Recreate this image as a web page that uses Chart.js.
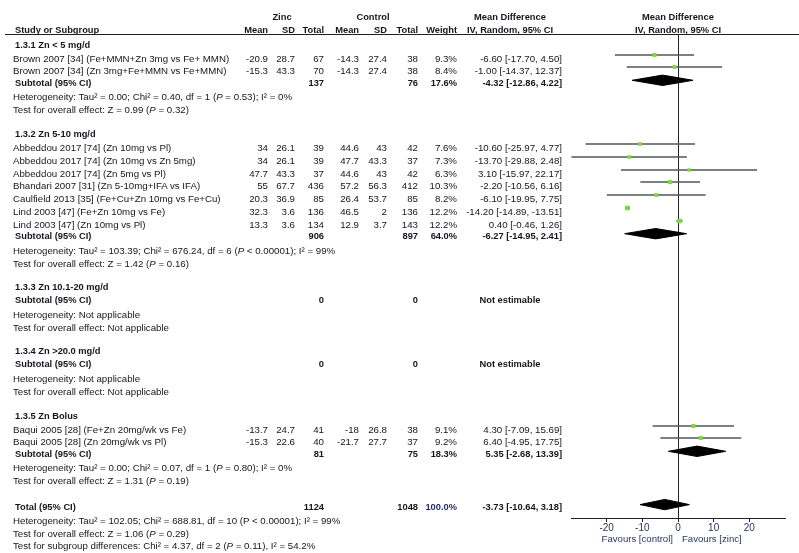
<!DOCTYPE html>
<html>
<head>
<meta charset="utf-8">
<script src="https://cdn.jsdelivr.net/npm/chart.js@4.4.1/dist/chart.umd.min.js"></script>
<style>
  html, body { margin: 0; padding: 0; background: #fff; }
  #wrap { position: relative; width: 799px; height: 553px; overflow: hidden; font-family: "Liberation Sans", Arial, sans-serif; color: #15151d; }
  #c { position: absolute; left: 0; top: 0; }
  .t { position: absolute; white-space: nowrap; font-size: 9.7px; line-height: 12px; height: 12px; }
  .b { font-weight: bold; font-size: 9.3px; }
  .hl { position: absolute; height: 1px; background: #222; }
</style>
</head>
<body>
<div id="wrap"><canvas id="c" width="799" height="553"></canvas></div>
<script>
// ---------------- DATA ----------------
const studyNames = [
  'Brown 2007 [34] (Fe+MMN+Zn 3mg vs Fe+ MMN)',
  'Brown 2007 [34] (Zn 3mg+Fe+MMN vs Fe+MMN)',
  'Abbeddou 2017 [74] (Zn 10mg vs Pl)',
  'Abbeddou 2017 [74] (Zn 10mg vs Zn 5mg)',
  'Abbeddou 2017 [74] (Zn 5mg vs Pl)',
  'Bhandari 2007 [31] (Zn 5-10mg+IFA vs IFA)',
  'Caulfield 2013 [35] (Fe+Cu+Zn 10mg vs Fe+Cu)',
  'Lind 2003 [47] (Fe+Zn 10mg vs Fe)',
  'Lind 2003 [47] (Zn 10mg vs Pl)',
  'Baqui 2005 [28] (Fe+Zn 20mg/wk vs Fe)',
  'Baqui 2005 [28] (Zn 20mg/wk vs Pl)'
];
const studyGroup = [0, 0, 1, 1, 1, 1, 1, 1, 1, 4, 4];
const zincMean = [-20.9, -15.3, 34, 34, 47.7, 55, 20.3, 32.3, 13.3, -13.7, -15.3];
const zincSD   = [28.7, 43.3, 26.1, 26.1, 43.3, 67.7, 36.9, 3.6, 3.6, 24.7, 22.6];
const zincN    = [67, 70, 39, 39, 37, 436, 85, 136, 134, 41, 40];
const ctrlMean = [-14.3, -14.3, 44.6, 47.7, 44.6, 57.2, 26.4, 46.5, 12.9, -18, -21.7];
const ctrlSD   = [27.4, 27.4, 43, 43.3, 43, 56.3, 53.7, 2, 3.7, 26.8, 27.7];
const ctrlN    = [38, 38, 42, 37, 42, 412, 85, 136, 143, 38, 37];
const weights  = [9.3, 8.4, 7.6, 7.3, 6.3, 10.3, 8.2, 12.2, 12.2, 9.1, 9.2];
const md       = [-6.60, -1.00, -10.60, -13.70, 3.10, -2.20, -6.10, -14.20, 0.40, 4.30, 6.40];
const ciLo     = [-17.70, -14.37, -25.97, -29.88, -15.97, -10.56, -19.95, -14.89, -0.46, -7.09, -4.95];
const ciHi     = [4.50, 12.37, 4.77, 2.48, 22.17, 6.16, 7.75, -13.51, 1.26, 15.69, 17.75];

const subgroupLabels = ['1.3.1 Zn < 5 mg/d', '1.3.2 Zn 5-10 mg/d', '1.3.3 Zn 10.1-20 mg/d', '1.3.4 Zn >20.0 mg/d', '1.3.5 Zn Bolus'];
const subZincN  = [137, 906, 0, 0, 81];
const subCtrlN  = [76, 897, 0, 0, 75];
const subWeight = [17.6, 64.0, null, null, 18.3];
const subMD     = [-4.32, -6.27, null, null, 5.35];
const subLo     = [-12.86, -14.95, null, null, -2.68];
const subHi     = [4.22, 2.41, null, null, 13.39];
const subHet = [
  'Heterogeneity: Tau² = 0.00; Chi² = 0.40, df = 1 (<i>P</i> = 0.53); I² = 0%',
  'Heterogeneity: Tau² = 103.39; Chi² = 676.24, df = 6 (<i>P</i> &lt; 0.00001); I² = 99%',
  'Heterogeneity: Not applicable',
  'Heterogeneity: Not applicable',
  'Heterogeneity: Tau² = 0.00; Chi² = 0.07, df = 1 (<i>P</i> = 0.80); I² = 0%'
];
const subTest = [
  'Test for overall effect: Z = 0.99 (<i>P</i> = 0.32)',
  'Test for overall effect: Z = 1.42 (<i>P</i> = 0.16)',
  'Test for overall effect: Not applicable',
  'Test for overall effect: Not applicable',
  'Test for overall effect: Z = 1.31 (<i>P</i> = 0.19)'
];
const totalZincN = 1124, totalCtrlN = 1048, totalWeight = 100.0;
const totalMD = -3.73, totalLo = -10.64, totalHi = 3.18;
const totalNotes = [
  'Heterogeneity: Tau² = 102.05; Chi² = 688.81, df = 10 (P &lt; 0.00001); I² = 99%',
  'Test for overall effect: Z = 1.06 (<i>P</i> = 0.29)',
  'Test for subgroup differences: Chi² = 4.37, df = 2 (<i>P</i> = 0.11), I² = 54.2%'
];
const axisTicks = [-20, -10, 0, 10, 20];
const axisLabels = ['Favours [control]', 'Favours [zinc]'];

// ---------------- LAYOUT (row positions, px below header rule) ----------------
const rows = [];
let y = 8;
subgroupLabels.forEach((lab, g) => {
  if (g > 0) y += 23.8;
  rows.push({ kind: 'group', g, y });
  const idx = studyGroup.map((sg, i) => sg === g ? i : -1).filter(i => i >= 0);
  idx.forEach((i, k) => { y += (k === 0 ? 14 : 12.8); rows.push({ kind: 'study', i, y }); });
  y += idx.length ? 11.5 : 13; rows.push({ kind: 'sub', g, y });
  y += 14.5; rows.push({ kind: 'het', g, y });
  y += 12.8; rows.push({ kind: 'test', g, y });
});
y += 26; rows.push({ kind: 'total', y });
y += 14; rows.push({ kind: 'note', n: 0, y });
y += 12.5; rows.push({ kind: 'note', n: 1, y });
y += 12; rows.push({ kind: 'note', n: 2, y });

const studyY = [], subY = [];
rows.forEach(r => { if (r.kind === 'study') studyY[r.i] = r.y; if (r.kind === 'sub') subY[r.g] = r.y; });
const totalY = rows.find(r => r.kind === 'total').y;

const PLOT_TOP = 35, PLOT_BOTTOM = 518;
const markY = v => Math.round(v - 2.5);
const fmt = v => v.toFixed(2);
const ciText = (m, l, h) => `${fmt(m)} [${fmt(l)}, ${fmt(h)}]`;

// ---------------- DATASETS ----------------
const datasets = [];
md.forEach((m, i) => {
  datasets.push({
    data: [{ x: ciLo[i], y: markY(studyY[i]) }, { x: ciHi[i], y: markY(studyY[i]) }],
    showLine: true, borderColor: '#4f5757', borderWidth: 1.7, pointRadius: 0, order: 2
  });
});
datasets.push({
  data: md.map((m, i) => ({ x: m, y: markY(studyY[i]) })),
  pointStyle: 'rect', backgroundColor: '#7ddb3a', borderWidth: 0,
  pointRadius: md.map((m, i) => (2 + weights[i] * 0.22) / Math.SQRT2),
  order: 1
});
function diamond(m, l, h, yy) {
  const dh = 5.2;
  return {
    data: [{ x: l, y: yy }, { x: m, y: yy - dh }, { x: h, y: yy }, { x: m, y: yy + dh }, { x: l, y: yy }],
    showLine: true, fill: 'shape', backgroundColor: '#000', borderColor: '#000', borderWidth: 1,
    pointRadius: 0, tension: 0, order: 0
  };
}
subMD.forEach((m, g) => { if (m !== null) datasets.push(diamond(m, subLo[g], subHi[g], subY[g] - 1)); });
datasets.push(diamond(totalMD, totalLo, totalHi, totalY - 1));

const chart = new Chart(document.getElementById('c'), {
  type: 'scatter',
  data: { datasets },
  options: {
    responsive: false, animation: false, devicePixelRatio: 1,
    layout: { padding: { left: 571, right: 14, top: PLOT_TOP, bottom: 0 } },
    plugins: { legend: { display: false }, tooltip: { enabled: false } },
    scales: {
      x: {
        type: 'linear', min: -30, max: 30,
        afterFit: s => { s.height = 553 - PLOT_BOTTOM; },
        afterBuildTicks: s => { s.ticks = [-30].concat(axisTicks, [30]).map(v => ({ value: v })); },
        ticks: {
          autoSkip: false, maxRotation: 0, padding: 0,
          color: '#2b3563', font: { family: '"Liberation Sans", Arial, sans-serif', size: 10 },
          callback: v => axisTicks.includes(v) ? String(v) : ''
        },
        grid: {
          drawOnChartArea: true, tickLength: 4,
          color: c => (c.tick && c.tick.value === 0) ? '#222' : 'rgba(0,0,0,0)',
          tickColor: c => (c.tick && axisTicks.includes(c.tick.value)) ? '#222' : 'rgba(0,0,0,0)',
          lineWidth: 1
        },
        border: { display: true, color: '#222', width: 1 }
      },
      y: {
        type: 'linear', display: false, reverse: true, min: 0, max: PLOT_BOTTOM - PLOT_TOP
      }
    }
  }
});

// ---------------- TABLE TEXT ----------------
const wrap = document.getElementById('wrap');
const TEXT_SHIFT = 1.5;
function put(html, x, yy, align, bold, extra) {
  const d = document.createElement('div');
  d.className = 't' + (bold ? ' b' : '');
  d.innerHTML = html;
  const w = 400;
  if (align === 'left') { d.style.left = x + 'px'; }
  else if (align === 'right') { d.style.left = (x - w) + 'px'; d.style.width = w + 'px'; d.style.textAlign = 'right'; }
  else { d.style.left = (x - w / 2) + 'px'; d.style.width = w + 'px'; d.style.textAlign = 'center'; }
  d.style.top = (yy - 6 + TEXT_SHIFT) + 'px';
  if (extra) Object.assign(d.style, extra);
  wrap.appendChild(d);
}
const ys = v => chart.scales.y.getPixelForValue(v);
const xs = v => chart.scales.x.getPixelForValue(v);
const COL = { name: 13, nameB: 15, zMean: 268, zSD: 295, zN: 324, cMean: 359, cSD: 387, cN: 418, w: 457, ci: 562, ciC: 510 };

// headers
put('Zinc', 282, 15, 'center', true);
put('Control', 373, 15, 'center', true);
put('Mean Difference', COL.ciC, 15, 'center', true);
put('Mean Difference', xs(0), 15, 'center', true);
put('Study or Subgroup', COL.nameB, 28, 'left', true);
put('Mean', COL.zMean, 28, 'right', true);
put('SD', COL.zSD, 28, 'right', true);
put('Total', COL.zN, 28, 'right', true);
put('Mean', COL.cMean, 28, 'right', true);
put('SD', COL.cSD, 28, 'right', true);
put('Total', COL.cN, 28, 'right', true);
put('Weight', COL.w, 28, 'right', true);
put('IV, Random, 95% CI', COL.ciC, 28, 'center', true);
put('IV, Random, 95% CI', xs(0), 28, 'center', true);
const rule = document.createElement('div');
rule.className = 'hl'; rule.style.left = '5px'; rule.style.width = '794px'; rule.style.top = (PLOT_TOP - 1) + 'px';
wrap.appendChild(rule);

rows.forEach(r => {
  const py = ys(r.y);
  if (r.kind === 'group') put(subgroupLabels[r.g], COL.nameB, py, 'left', true);
  else if (r.kind === 'study') {
    const i = r.i;
    put(studyNames[i], COL.name, py, 'left');
    put(String(zincMean[i]), COL.zMean, py, 'right');
    put(String(zincSD[i]), COL.zSD, py, 'right');
    put(String(zincN[i]), COL.zN, py, 'right');
    put(String(ctrlMean[i]), COL.cMean, py, 'right');
    put(String(ctrlSD[i]), COL.cSD, py, 'right');
    put(String(ctrlN[i]), COL.cN, py, 'right');
    put(weights[i].toFixed(1) + '%', COL.w, py, 'right');
    put(ciText(md[i], ciLo[i], ciHi[i]), COL.ci, py, 'right');
  } else if (r.kind === 'sub') {
    const g = r.g;
    put('Subtotal (95% CI)', COL.nameB, py, 'left', true);
    put(String(subZincN[g]), COL.zN, py, 'right', true);
    put(String(subCtrlN[g]), COL.cN, py, 'right', true);
    if (subMD[g] !== null) {
      put(subWeight[g].toFixed(1) + '%', COL.w, py, 'right', true);
      put(ciText(subMD[g], subLo[g], subHi[g]), COL.ci, py, 'right', true);
    } else {
      put('Not estimable', COL.ciC, py, 'center', true);
    }
  } else if (r.kind === 'het') put(subHet[r.g], COL.name, py, 'left');
  else if (r.kind === 'test') put(subTest[r.g], COL.name, py, 'left');
  else if (r.kind === 'total') {
    put('Total (95% CI)', COL.nameB, py, 'left', true);
    put(String(totalZincN), COL.zN, py, 'right', true);
    put(String(totalCtrlN), COL.cN, py, 'right', true);
    put(totalWeight.toFixed(1) + '%', COL.w, py, 'right', true, { color: '#25306a' });
    put(ciText(totalMD, totalLo, totalHi), COL.ci, py, 'right', true);
  } else if (r.kind === 'note') put(totalNotes[r.n], COL.name, py, 'left');
});

// axis captions
put(axisLabels[0], xs(0) - 5, 537, 'right', false, { color: '#2b3563', fontSize: '9.6px' });
put(axisLabels[1], xs(0) + 4, 537, 'left', false, { color: '#2b3563', fontSize: '9.6px' });
</script>
</body>
</html>
